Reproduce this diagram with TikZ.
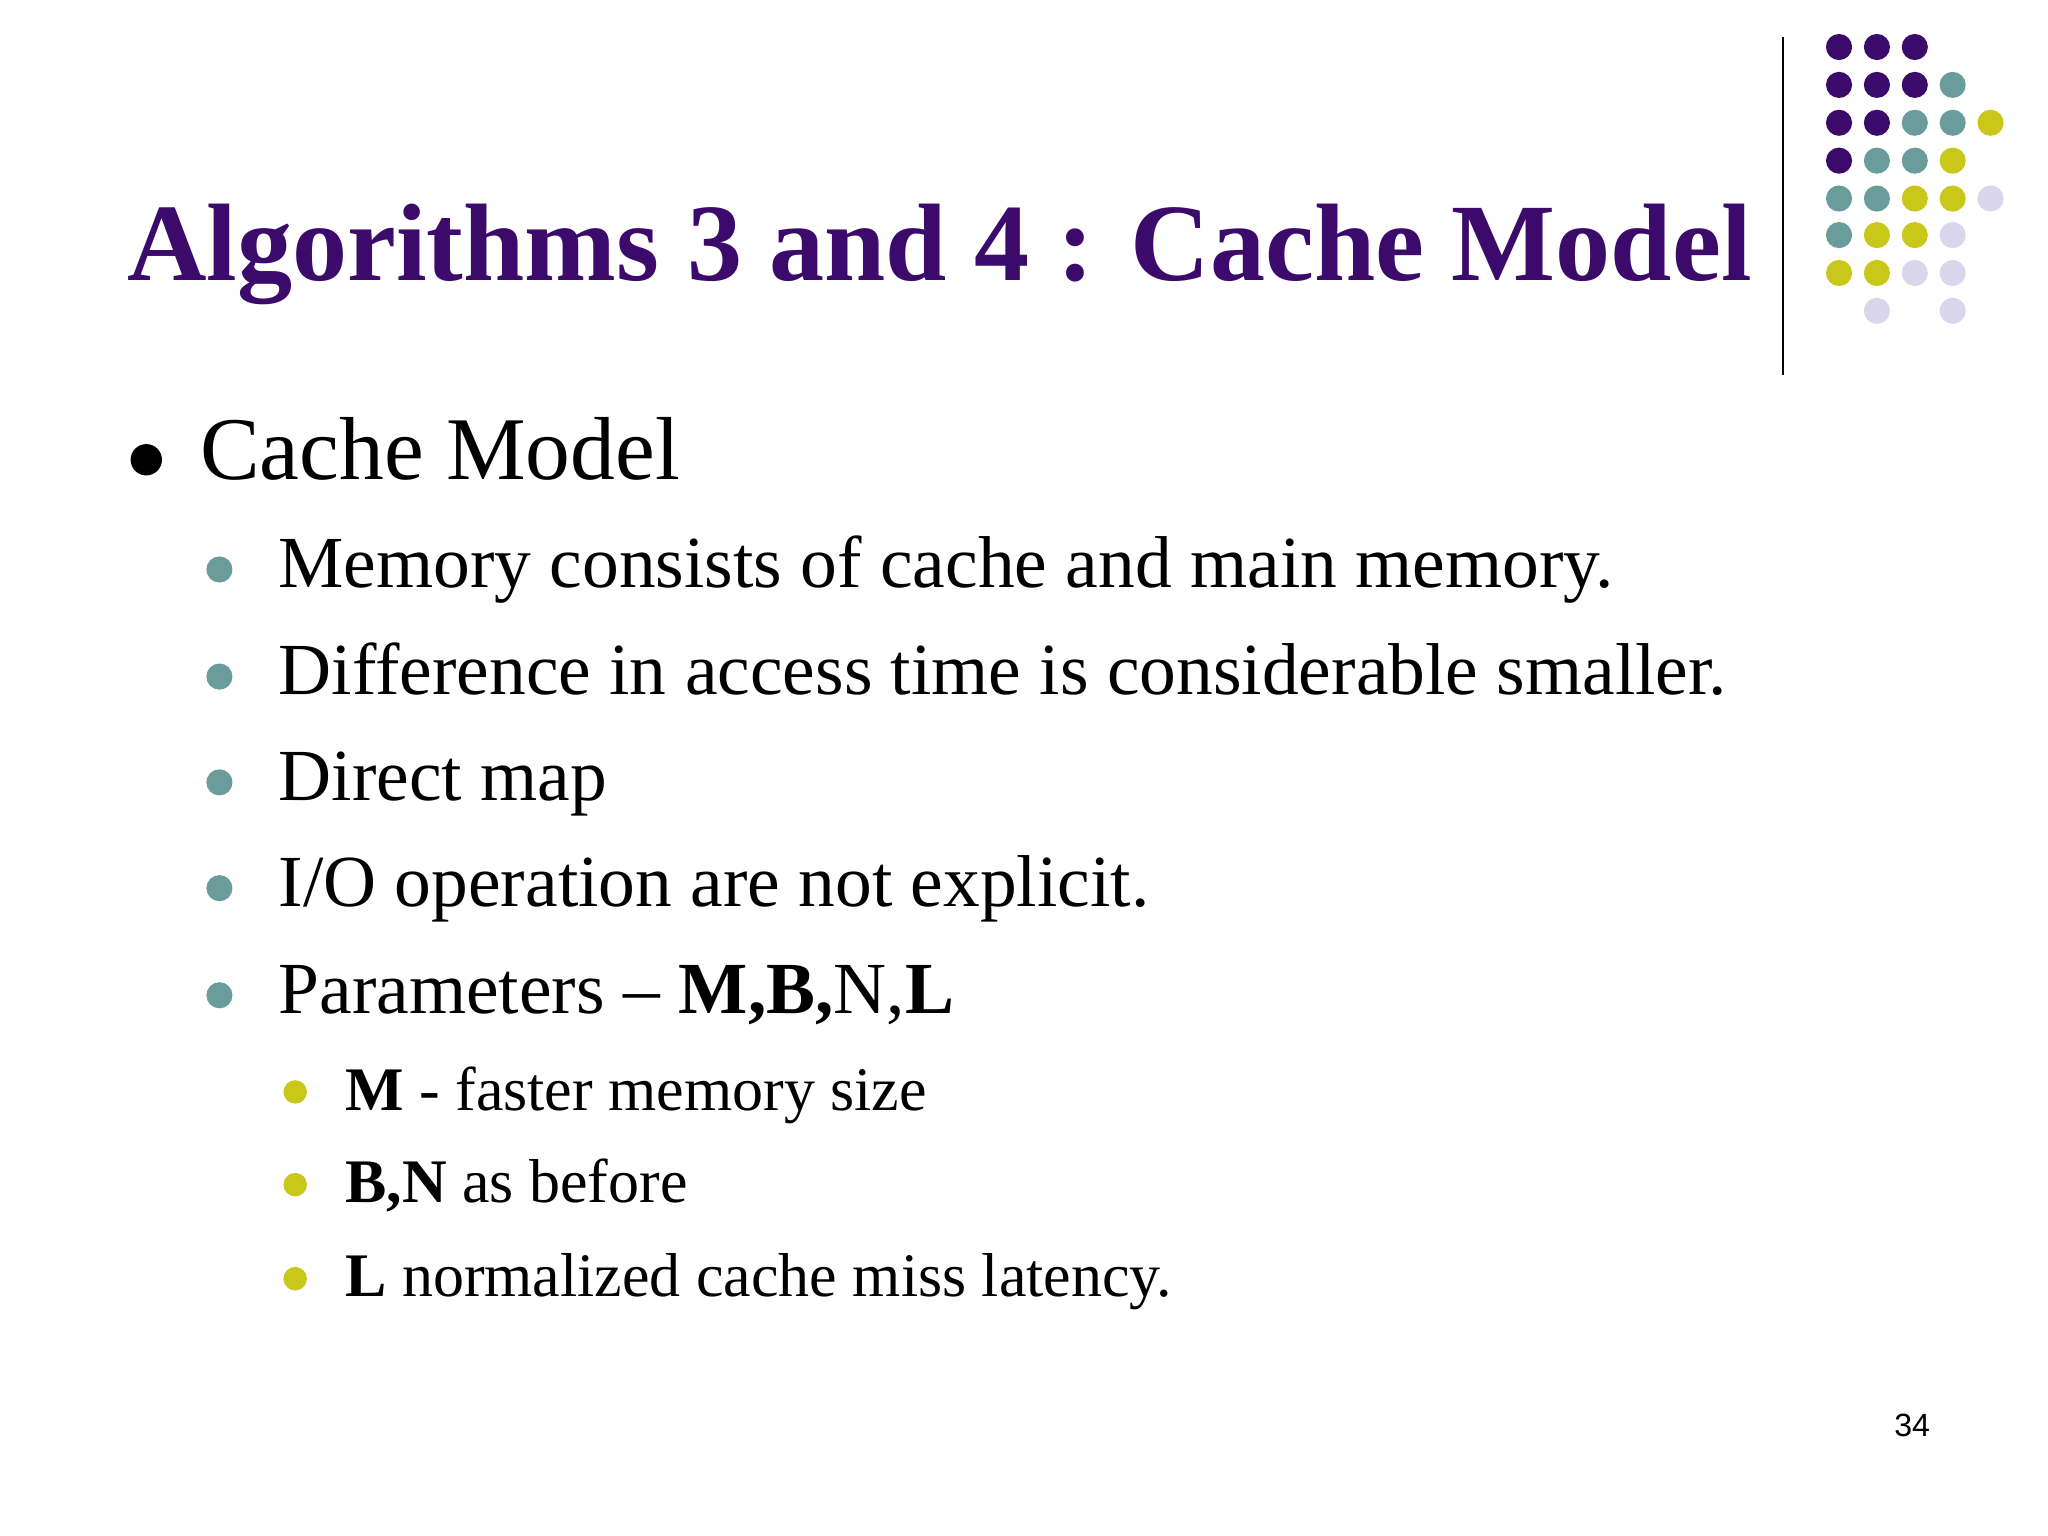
\documentclass[tikz,border=0pt]{standalone}
\usepackage{fontspec}
\setmainfont{Liberation Serif}
\newfontfamily\pnum{Liberation Sans}
\definecolor{dpurple}{HTML}{3B0A6A}
\definecolor{dteal}{HTML}{6A9C9C}
\definecolor{dyellow}{HTML}{C9C81A}
\definecolor{dlav}{HTML}{DAD6EC}
\begin{document}
\begin{tikzpicture}[x=0.02cm,y=-0.02cm,
  txt/.style={anchor=base west,inner sep=0pt},
  lone/.style={txt,font=\fontsize{39}{44}\selectfont},
  ltwo/.style={txt,font=\fontsize{32}{36}\selectfont},
  lthree/.style={txt,font=\fontsize{27}{30}\selectfont},
  dotp/.style={fill=dpurple},dott/.style={fill=dteal},doty/.style={fill=dyellow},dotl/.style={fill=dlav}]
\useasboundingbox (0,0) rectangle (1568,1176);
\fill[white] (0,0) rectangle (1568,1176);
% decorative dots
\foreach \x/\y/\c in {1408/36/dotp,1437/36/dotp,1466/36/dotp,
 1408/65/dotp,1437/65/dotp,1466/65/dotp,1495/65/dott,
 1408/94/dotp,1437/94/dotp,1466/94/dott,1495/94/dott,1524/94/doty,
 1408/123/dotp,1437/123/dott,1466/123/dott,1495/123/doty,
 1408/152/dott,1437/152/dott,1466/152/doty,1495/152/doty,1524/152/dotl,
 1408/180/dott,1437/180/doty,1466/180/doty,1495/180/dotl,
 1408/209/doty,1437/209/doty,1466/209/dotl,1495/209/dotl,
 1437/238/dotl,1495/238/dotl}
 \fill[\c] (\x,\y) circle (10);
\draw[line width=1pt] (1365,28) -- (1365,287);
\node[txt,text=dpurple,font=\fontsize{48}{54}\selectfont\bfseries] (title) at (97,215) {Algorithms 3 and 4 : Cache Model};
\fill[black] (112,352) circle (12);
\node[lone] (l1) at (153,367) {Cache Model};
\foreach \yy/\t [count=\i] in {450/{Memory consists of cache and main memory.},532/{Difference in access time is considerable smaller.},613/{Direct map},694/{I/O operation are not explicit.},776/{Parameters -- \textbf{M,B,}N,\textbf{L}}}{
 \fill[dteal] (168,\yy-14) circle (10);
 \node[ltwo] (b\i) at (213,\yy) {\t};}
\foreach \yy/\t [count=\i] in {850/{\textbf{M} - faster memory size},921/{\textbf{B,N} as before},993/{\textbf{L} normalized cache miss latency.}}{
 \fill[dyellow] (226,\yy-14) circle (9);
 \node[lthree] (c\i) at (264,\yy) {\t};}
\node[txt,font=\pnum\fontsize{14}{16}\selectfont] (pg) at (1450,1100) {34};
\end{tikzpicture}
\end{document}
